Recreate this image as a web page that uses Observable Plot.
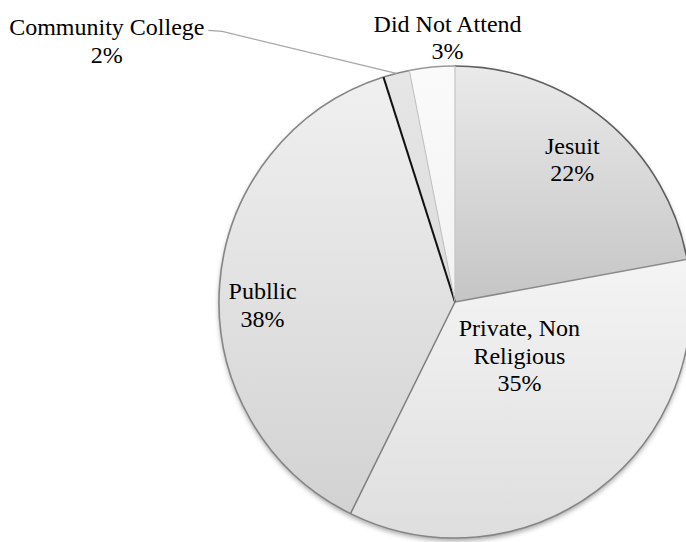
<!DOCTYPE html>
<html>
<head>
<meta charset="utf-8">
<script src="https://cdn.jsdelivr.net/npm/d3@7"></script>
<script src="https://cdn.jsdelivr.net/npm/@observablehq/plot@0.6"></script>
<style>
  html, body { margin: 0; padding: 0; background: #fff; }
  #chart svg { display: block; }
  #chart svg text, #chart svg tspan { font-family: "Liberation Serif", "Times New Roman", Times, "DejaVu Serif", serif !important; }
</style>
</head>
<body>
<div id="chart"></div>
<script>
// ---- data ----
const categories = ["Jesuit", "Private, Non Religious", "Publlic", "Community College", "Did Not Attend"];
const labelNames = ["Jesuit", "Private, Non\nReligious", "Publlic", "Community College", "Did Not Attend"];
const shares = [22.1, 35.2, 37.8, 1.8, 3.1];
const pctLabels = ["22%", "35%", "38%", "2%", "3%"];

// ---- styles ----
const gradTop = ["#eaeaea", "#f4f4f4", "#f0f0f0", "#e6e6e6", "#fafafa"];
const gradBottom = ["#c5c5c5", "#dedede", "#d2d2d2", "#dcdcdc", "#f2f2f2"];
const edgeColor = ["#5e5e5e", "#858585", "#858585", "#858585", "#9a9a9a"];
// boundary at the start angle of each slice
const boundaryColor = ["#c4c4c4", "#8a8a8a", "#7d7d7d", "#111111", "#bdbdbd"];
const boundaryWidth = [1.2, 1.5, 1.5, 2, 1];
// label placement: radius factor along slice mid-angle, plus pixel nudges
const labelRadius = [0.76, 0.4, 0.82, 1.0, 1.0];
const labelDx = [2, 7, 0, -290, 15];
const labelDy = [-6, -23, 16, -34, -31];

const SERIF = "'Liberation Serif', 'Times New Roman', Times, 'DejaVu Serif', serif";
const W = 686, H = 542;
const cx = 455, cy = 302, R = 236;

const rows = categories.map((c, i) => ({
  category: c, share: shares[i], name: labelNames[i], pct: pctLabels[i], i
}));
const arcs = d3.pie().sort(null).value(d => d.share).startAngle(0).endAngle(2 * Math.PI)(rows);
arcs.forEach(a => {
  const m = (a.startAngle + a.endAngle) / 2;
  a.mid = m;
  a.data.lx = labelRadius[a.data.i] * Math.sin(m);
  a.data.ly = labelRadius[a.data.i] * Math.cos(m);
});

function pieMark(index, scales, values, dimensions, context) {
  const x0 = scales.x(0), y0 = scales.y(0);
  const r = scales.x(1) - scales.x(0);
  const g = d3.create("svg:g");
  const defs = g.append("defs");
  const f = defs.append("filter").attr("id", "pieshadow")
    .attr("x", "-10%").attr("y", "-10%").attr("width", "120%").attr("height", "120%");
  f.append("feDropShadow").attr("dx", 0).attr("dy", 3).attr("stdDeviation", 2.5)
    .attr("flood-color", "#000").attr("flood-opacity", 0.35);
  arcs.forEach(a => {
    const lg = defs.append("linearGradient").attr("id", "grad" + a.data.i)
      .attr("x1", 0).attr("y1", 0).attr("x2", 0).attr("y2", 1);
    lg.append("stop").attr("offset", "0%").attr("stop-color", gradTop[a.data.i]);
    lg.append("stop").attr("offset", "100%").attr("stop-color", gradBottom[a.data.i]);
  });
  const arcGen = d3.arc().innerRadius(0).outerRadius(r);
  const pie = g.append("g").attr("transform", `translate(${x0},${y0})`);
  pie.append("g").attr("filter", "url(#pieshadow)")
    .selectAll("path").data(arcs).join("path")
    .attr("d", arcGen)
    .attr("fill", a => `url(#grad${a.data.i})`);
  const edgeArc = d3.arc().innerRadius(r).outerRadius(r);
  pie.append("g").selectAll("path").data(arcs).join("path")
    .attr("d", edgeArc)
    .attr("fill", "none")
    .attr("stroke", a => edgeColor[a.data.i])
    .attr("stroke-width", 1.6);
  pie.append("g").selectAll("line").data(arcs).join("line")
    .attr("x1", 0).attr("y1", 0)
    .attr("x2", a => r * Math.sin(a.startAngle))
    .attr("y2", a => -r * Math.cos(a.startAngle))
    .attr("stroke", a => boundaryColor[a.data.i])
    .attr("stroke-width", a => boundaryWidth[a.data.i]);
  const cc = arcs[3];
  const px = r * Math.sin(cc.mid), py = -r * Math.cos(cc.mid);
  const lx = scales.x(cc.data.lx) + labelDx[3] - x0;
  const ly = scales.y(cc.data.ly) + labelDy[3] - y0;
  pie.append("polyline")
    .attr("points", `${px},${py} ${lx + 116},${ly - 8} ${lx + 102},${ly - 9}`)
    .attr("fill", "none").attr("stroke", "#a6a6a6").attr("stroke-width", 1.3);
  return g.node();
}

const textMarks = arcs.map(a => Plot.text([a.data], {
  x: "lx", y: "ly",
  text: d => `${d.name}\n${d.pct}`,
  dx: labelDx[a.data.i], dy: labelDy[a.data.i],
  fontSize: 24, lineHeight: 1.15, fill: "#000",
  fontFamily: SERIF,
  textAnchor: "middle"
}));

const chart = Plot.plot({
  width: W, height: H,
  margin: 0,
  style: { background: "#fff", overflow: "hidden", fontFamily: SERIF },
  x: { domain: [-1, 1], range: [cx - R, cx + R], axis: null },
  y: { domain: [-1, 1], range: [cy + R, cy - R], axis: null },
  marks: [pieMark, ...textMarks]
});
document.getElementById("chart").appendChild(chart);
</script>
</body>
</html>
